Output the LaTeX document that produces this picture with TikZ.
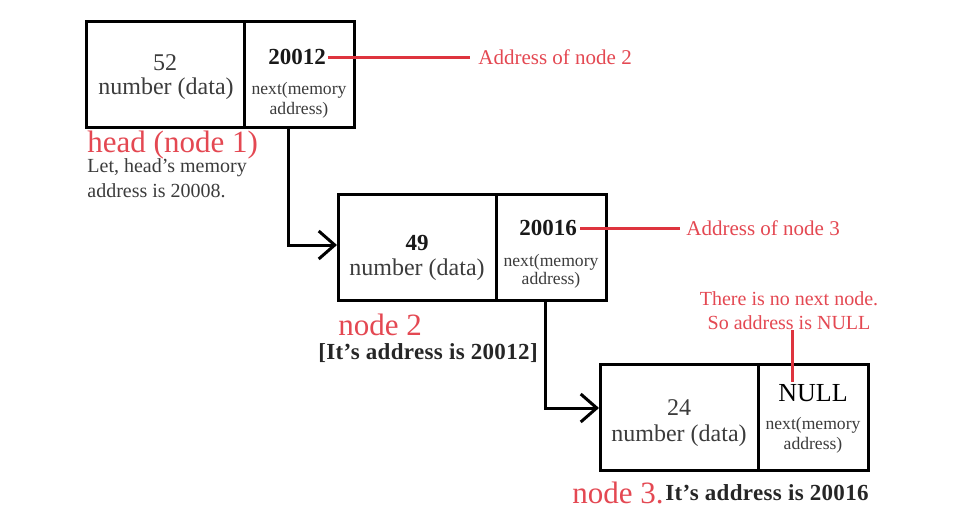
\documentclass[tikz,border=0pt]{standalone}
\usepackage{fontspec}
\setmainfont{Liberation Serif}
\usetikzlibrary{arrows.meta}
\definecolor{redline}{RGB}{222,52,62}
\definecolor{redtext}{RGB}{228,72,82}
\definecolor{graytext}{RGB}{60,60,60}
\begin{document}
\begin{tikzpicture}[x=0.5pt,y=-0.5pt,
  cell/.style={draw=black,line width=1.5pt,minimum height=53pt,inner sep=0pt},
  datacell/.style={cell,minimum width=79pt},
  nextcell/.style={cell,minimum width=55pt},
  txt/.style={inner sep=0pt,text=graytext},
  val/.style={txt,font=\fontsize{12}{14}\selectfont},
  valb/.style={inner sep=0pt,text=black!90,font=\fontsize{11.5}{14}\selectfont\bfseries},
  small/.style={txt,font=\fontsize{8.8}{10}\selectfont},
  redlbl/.style={inner sep=0pt,text=redtext,font=\fontsize{10.5}{12}\selectfont},
  bigred/.style={inner sep=0pt,text=redtext,font=\fontsize{15.5}{18}\selectfont},
  addr/.style={inner sep=0pt,text=black!85,font=\fontsize{11.5}{13}\selectfont\bfseries\addfontfeature{LetterSpace=1.5}},
  conn/.style={draw=black,line width=1.5pt,-{Straight Barb[length=8pt,width=14pt]}},
  redconn/.style={draw=redline,line width=1.5pt}
]
\useasboundingbox (0,0) rectangle (956,525);
\fill[white] (0,0) rectangle (956,525);

% node 1
\node[datacell] (data1) at (165,74) {};
\node[nextcell] (next1) at (299,74) {};
\node[val] (d1v) at (165,63) {52};
\node[val] (d1l) at (166,89) {number (data)};
\node[valb] (n1v) at (297,57) {20012};
\node[small] (n1a) at (299,90) {next(memory};
\node[small] (n1b) at (299,110) {address)};
\node[redlbl,anchor=west] (a1) at (478,57) {Address of node 2};
\coordinate (a1end) at (470,57);
\draw[redconn] ([xshift=1pt]n1v.east) -- (a1end |- n1v.east);

% node 1 captions
\node[bigred,anchor=west] (h1) at (87,145) {head (node 1)};
\node[txt,anchor=west,font=\fontsize{10}{12}\selectfont] (h1a) at (87,168) {Let, head's memory};
\node[txt,anchor=west,font=\fontsize{10}{12}\selectfont] (h1b) at (87,191) {address is 20008.};

% node 2
\node[datacell] (data2) at (417.5,247) {};
\node[nextcell] (next2) at (551,247) {};
\node[valb] (d2v) at (417,243) {49};
\node[val] (d2l) at (417,270) {number (data)};
\node[valb] (n2v) at (548,228) {20016};
\node[small] (n2a) at (551,262) {next(memory};
\node[small] (n2b) at (551,280) {address)};
\node[redlbl,anchor=west] (a2) at (686,228) {Address of node 3};
\coordinate (a2end) at (680,228);
\draw[redconn] ([xshift=1.5pt]n2v.east) -- (a2end |- n2v.east);
\node[bigred,anchor=west] (h2) at (338,325) {node 2};
\node[addr,anchor=west] (h2a) at (318,353) {[It's address is 20012]};

% node 3
\node[datacell] (data3) at (679.5,417) {};
\node[nextcell] (next3) at (813,417) {};
\node[val] (d3v) at (679,408) {24};
\node[val] (d3l) at (679,436) {number (data)};
\node[inner sep=0pt,text=black,font=\fontsize{13}{15}\selectfont] (n3v) at (813,393) {NULL};
\node[small] (n3a) at (813,425) {next(memory};
\node[small] (n3b) at (813,445) {address)};
\node[redlbl,font=\fontsize{10}{12}\selectfont] (note1) at (789,299) {There is no next node.};
\node[redlbl,font=\fontsize{10}{12}\selectfont] (note2) at (789,323) {So address is NULL};
\coordinate (nulltip) at (792,382);
\draw[redconn] (note2.south -| nulltip) -- (nulltip);
\node[bigred,anchor=west] (h3) at (572,493) {node 3.};
\node[addr,anchor=west] (h3a) at (665,493) {It's address is 20016};

% connectors
\coordinate (bend1) at (288,245);
\draw[conn] (next1.south -| bend1) -- (bend1) -- (data2.west |- bend1);
\coordinate (bend2) at (545,408);
\draw[conn] (next2.south -| bend2) -- (bend2) -- (data3.west |- bend2);
\end{tikzpicture}
\end{document}
